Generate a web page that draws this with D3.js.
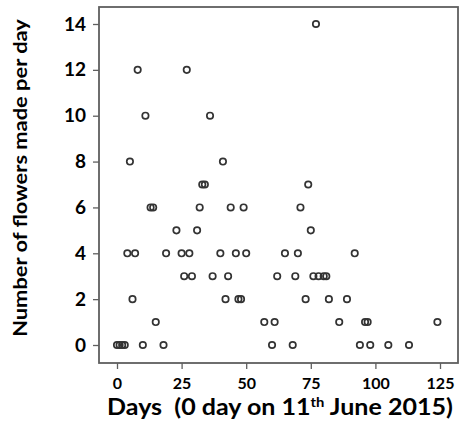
<!DOCTYPE html>
<html>
<head>
<meta charset="utf-8">
<script src="https://cdn.jsdelivr.net/npm/d3@7"></script>
<style>
  html, body { margin: 0; padding: 0; background: #fff; }
  svg { display: block; font-family: Lato, "Open Sans", sans-serif; }
</style>
</head>
<body>
<div id="chart"></div>
<script>
// days since 11 June 2015 and flowers made that day
const days = [
  0, 1, 2, 3, 10, 18, 60, 68, 94, 98, 105, 113,
  15, 57, 61, 86, 96, 97, 124,
  6, 42, 47, 48, 73, 82, 89,
  26, 29, 37, 43, 62, 69, 76, 78, 80, 81,
  4, 7, 19, 25, 28, 40, 46, 50, 65, 70, 92,
  23, 31, 75,
  13, 14, 32, 44, 49, 71,
  33, 34, 74,
  5, 41,
  11, 36,
  8, 27,
  77
];
const flowers = [
  0, 0, 0, 0, 0, 0, 0, 0, 0, 0, 0, 0,
  1, 1, 1, 1, 1, 1, 1,
  2, 2, 2, 2, 2, 2, 2,
  3, 3, 3, 3, 3, 3, 3, 3, 3, 3,
  4, 4, 4, 4, 4, 4, 4, 4, 4, 4, 4,
  5, 5, 5,
  6, 6, 6, 6, 6, 6,
  7, 7, 7,
  8, 8,
  10, 10,
  12, 12,
  14
];
const xTicks = [0, 25, 50, 75, 100, 125];
const yTicks = [0, 2, 4, 6, 8, 10, 12, 14];

const width = 461, height = 429;
const frame = { left: 99, right: 458, top: 7, bottom: 363 };

const x = d3.scaleLinear().domain([0, 125]).range([117, 440]);
const y = d3.scaleLinear().domain([0, 14]).range([345, 24]);

const svg = d3.select('#chart').append('svg')
    .attr('width', width)
    .attr('height', height);

// stretch a text horizontally (in its own frame) to a target length
function fit(sel, target, cx, cy) {
    const w = sel.node().getComputedTextLength();
    const s = target / w;
    sel.attr('transform', `translate(${cx},${cy}) scale(${s},1)`);
}

svg.append('rect')
    .attr('x', frame.left)
    .attr('y', frame.top)
    .attr('width', frame.right - frame.left)
    .attr('height', frame.bottom - frame.top)
    .attr('fill', 'none')
    .attr('stroke', '#5f5f5f')
    .attr('stroke-width', 1.8);

const xAxis = svg.append('g')
    .attr('transform', `translate(0,${frame.bottom})`)
    .call(d3.axisBottom(x).tickValues(xTicks).tickSize(6).tickPadding(9));

const yAxis = svg.append('g')
    .attr('transform', `translate(${frame.left},0)`)
    .call(d3.axisLeft(y).tickValues(yTicks).tickSize(6).tickPadding(7));

[xAxis, yAxis].forEach(ax => {
    ax.select('.domain').remove();
    ax.selectAll('.tick line').attr('stroke', '#5f5f5f').attr('stroke-width', 1.3);
    ax.selectAll('.tick text')
        .attr('fill', '#000')
        .style('font-family', 'Lato, "Open Sans", sans-serif')
        .style('font-weight', 'bold');
});
xAxis.selectAll('.tick text').style('font-size', '16px');
yAxis.selectAll('.tick text').style('font-size', '19px');

svg.append('g')
    .selectAll('circle')
    .data(days.map((d, i) => [d, flowers[i]]))
    .join('circle')
    .attr('cx', d => x(d[0]))
    .attr('cy', d => y(d[1]))
    .attr('r', 3.2)
    .attr('fill', 'none')
    .attr('stroke', '#333')
    .attr('stroke-width', 1.7);

// x axis title
const xt = svg.append('text')
    .attr('text-anchor', 'middle')
    .style('white-space', 'pre')
    .style('font-size', '22px')
    .style('font-weight', 'bold')
    .attr('fill', '#000');
xt.append('tspan').text('Days  (0 day on 11');
xt.append('tspan').attr('dy', -8).style('font-size', '13px').text('th');
xt.append('tspan').attr('dy', 8).text(' June 2015)');
fit(xt, 346, 280, 415);

// y axis title
const yt = svg.append('text')
    .attr('text-anchor', 'middle')
    .style('font-size', '19px')
    .style('font-weight', 'bold')
    .attr('fill', '#000')
    .text('Number of flowers made per day');
{
    const w = yt.node().getComputedTextLength();
    yt.attr('transform', `translate(27,178) rotate(-90) scale(${318 / w},1)`);
}
</script>
</body>
</html>
